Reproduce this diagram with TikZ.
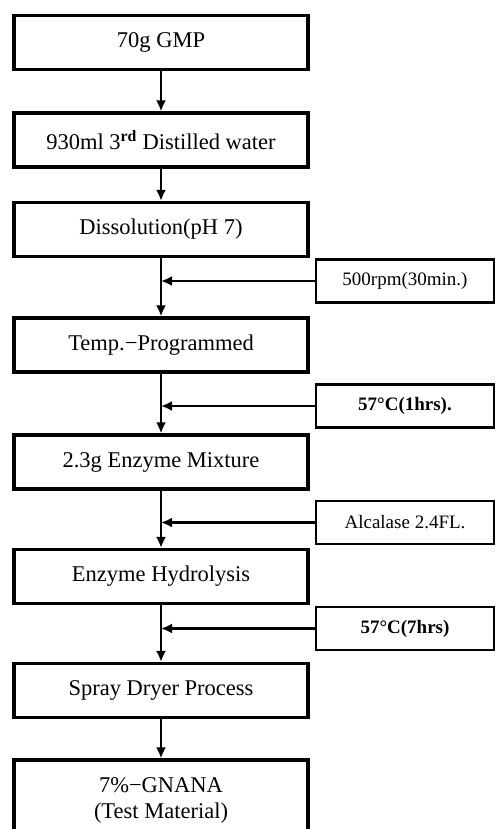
\documentclass[tikz,border=0pt]{standalone}
\usepackage{fontspec}
\setmainfont{Liberation Serif}
\usetikzlibrary{arrows.meta}

\begin{document}
\begin{tikzpicture}
	[
	x=1pt, y=-1pt, font=\fontsize{22.5}{26}\selectfont, >={Latex[length=11pt,width=10pt]},
	%Voreinstellungen
	box/.style={draw, line width=3.2pt, minimum width=294pt, minimum height=54pt, inner sep=0pt},
	side/.style={draw, line width=2.8pt, minimum width=178pt, minimum height=43pt, inner sep=0pt, font=\fontsize{19}{22}\selectfont},
	flow/.style={->, line width=2.2pt}
	]
	
	%Rahmen
	\useasboundingbox (0,0) rectangle (495,829);
	\clip (0,0) rectangle (495,829);
	
	%Hauptschritte
	\node[box] (gmp) at (161,42.5) {70g GMP};
	\node[box] (water) at (161,140) {930ml 3\textsuperscript{\textbf{rd}} Distilled water};
	\node[box] (dissol) at (161,229.5) {Dissolution(pH 7)};
	\node[box] (temp) at (161,345) {Temp.−Programmed};
	\node[box] (mix) at (161,462) {2.3g Enzyme Mixture};
	\node[box] (hydro) at (161,576.5) {Enzyme Hydrolysis};
	\node[box] (spray) at (161,690.5) {Spray Dryer Process};
	\node[box, minimum height=80pt, align=center] (gnana) at (161,800) {7\%−GNANA\\(Test Material)};
	
	%Bedingungen
	\node[side] (rpm) at (405,281) {500rpm(30min.)};
	\node[side, font=\fontsize{19}{22}\selectfont\bfseries] (hrs1) at (405,406) {57°C(1hrs).};
	\node[side] (alc) at (405,522.5) {Alcalase 2.4FL.};
	\node[side, font=\fontsize{19}{22}\selectfont\bfseries] (hrs7) at (405,628.5) {57°C(7hrs)};
	
	%Pfeile nach unten
	\draw[flow] (gmp.south) -- (water.north);
	\draw[flow] (water.south) -- (dissol.north);
	\draw[flow] (dissol.south) -- (temp.north);
	\draw[flow] (temp.south) -- (mix.north);
	\draw[flow] (mix.south) -- (hydro.north);
	\draw[flow] (hydro.south) -- (spray.north);
	\draw[flow] (spray.south) -- (gnana.north);
	
	%Pfeile von rechts
	\draw[flow] (rpm.west) -- (rpm.west -| dissol.south);
	\draw[flow] (hrs1.west) -- (hrs1.west -| temp.south);
	\draw[flow] (alc.west) -- (alc.west -| mix.south);
	\draw[flow] (hrs7.west) -- (hrs7.west -| hydro.south);
\end{tikzpicture}
\end{document}
